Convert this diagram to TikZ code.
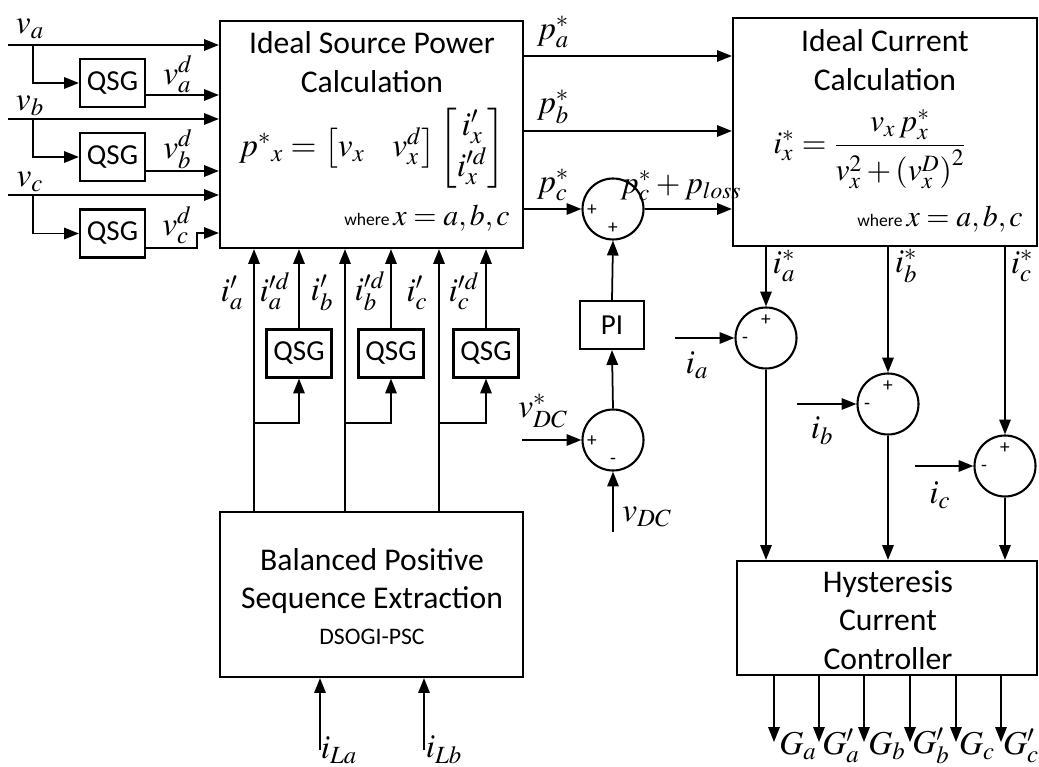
\documentclass[tikz,border=0pt]{standalone}
\usepackage{amsmath}
\usepackage{mathptmx}
\usepackage{fontspec}
\setmainfont{Carlito}
\usetikzlibrary{arrows.meta,fit}
\begin{document}
\begin{tikzpicture}[x=0.02cm,y=-0.02cm,
  box/.style={draw, line width=1.2pt, inner sep=0pt},
  qsg/.style={draw, line width=1.2pt, minimum width=1.3cm, minimum height=0.96cm, inner sep=0pt, font=\fontsize{16.5}{18}\selectfont},
  sumc/.style={draw, circle, line width=1.2pt, minimum size=1.22cm, inner sep=0pt},
  lbl/.style={inner sep=0pt, font=\fontsize{19}{21}\selectfont},
  sgn/.style={inner sep=0pt, font=\fontsize{11}{11}\selectfont},
  ttl/.style={align=center, inner sep=0pt, font=\fontsize{18}{22}\selectfont},
  arr/.style={-{Triangle[length=8.5pt,width=6.5pt]}, line width=1pt},
]
\useasboundingbox (0,0) rectangle (1039,767);

% ---------- main boxes ----------
\node[box, fit={(220,21) (523,248)}] (b1) {};
\node[ttl] (b1t) at (372,62) {Ideal Source Power\\Calculation};
\node[inner sep=0pt, font=\fontsize{19}{23}\selectfont] (b1f) at (372,148) {$p^{*}{}_{x}=\begin{bmatrix} v_x & \hspace{0.3em} v^{d}_x\end{bmatrix}\begin{bmatrix} i'_x\\ i'^{d}_x\end{bmatrix}$};
\node[inner sep=0pt] (b1w) at (427,218) {{\fontsize{10}{11}\selectfont where}\ {\fontsize{17}{18}\selectfont $x=a,b,c$}};

\node[box, fit={(733,18) (1037,246)}] (b3) {};
\node[ttl] (b3t) at (885,60) {Ideal Current\\Calculation};
\node[inner sep=0pt, font=\fontsize{18}{20}\selectfont] (b3f) at (870,149) {$i^{*}_{x}=\dfrac{v_x\,p^{*}_{x}}{v_x^{2}+\left(v_x^{D}\right)^{2}}$};
\node[inner sep=0pt] (b3w) at (940,219) {{\fontsize{10}{11}\selectfont where}\ {\fontsize{17}{18}\selectfont $x=a,b,c$}};

\node[box, fit={(220,512) (523,677)}] (b2) {};
\node[ttl] (b2t) at (372,581) {Balanced Positive\\Sequence Extraction};
\node[inner sep=0pt, font=\fontsize{13.5}{15}\selectfont] (b2s) at (372,637) {DSOGI-PSC};

\node[box, fit={(737,561) (1037,675)}] (b4) {};
\node[ttl] (b4t) at (888,620) {Hysteresis\\Current\\Controller};

% ---------- QSG blocks ----------
\node[qsg] (q1) at (112.5,83) {QSG};
\node[qsg] (q2) at (112.5,157) {QSG};
\node[qsg] (q3) at (112.5,233.5) {QSG};
\node[qsg] (q4) at (299,353.5) {QSG};
\node[qsg] (q5) at (391,353.5) {QSG};
\node[qsg] (q6) at (486,353.5) {QSG};

% ---------- summing junctions and PI ----------
\node[sumc] (s1) at (613,209) {};
\node[sumc] (s2) at (613,440) {};
\node[draw, line width=1.2pt, minimum width=1.28cm, minimum height=0.96cm, inner sep=0pt, font=\fontsize{16.5}{18}\selectfont] (pi) at (612,325) {PI};
\node[sumc] (sa) at (766,338) {};
\node[sumc] (sb) at (888,404) {};
\node[sumc] (sc) at (1005,466) {};

\node[sgn] (s1p1) at (592,210) {+};
\node[sgn] (s1p2) at (613,228) {+};
\node[sgn] (s2p1) at (592,441) {+};
\node[sgn] (s2m) at (613,461) {-};
\node[sgn] (sap) at (766,320) {+};
\node[sgn] (sam) at (745,340) {-};
\node[sgn] (sbp) at (888,386) {+};
\node[sgn] (sbm) at (867,406) {-};
\node[sgn] (scp) at (1005,448) {+};
\node[sgn] (scm) at (984,468) {-};

% ---------- left inputs ----------
\coordinate (va0) at (8,45);  \coordinate (vaj) at (33,45);
\coordinate (vb0) at (8,119); \coordinate (vbj) at (33,119);
\coordinate (vc0) at (8,195); \coordinate (vcj) at (33,195);
\draw[arr] (va0) -- (va0 -| b1.west);
\draw[arr] (vb0) -- (vb0 -| b1.west);
\draw[arr] (vc0) -- (vc0 -| b1.west);
\draw[arr] (vaj) |- (q1.west);
\draw[arr] (vbj) |- (q2.west);
\draw[arr] (vcj) |- (q3.west);
\draw[arr] (q1.east |- 0,95) -- (b1.west |- 0,95);
\draw[arr] (q2.east |- 0,171) -- (b1.west |- 0,171);
\draw[arr] (q3.east |- 0,248) -- (197,248) -- (197,233) -- (b1.west |- 0,233);

\node[lbl] (lva) at (30,29) {$v_a$};
\node[lbl] (lvb) at (30,106) {$v_b$};
\node[lbl] (lvc) at (30,182) {$v_c$};
\node[lbl] (lvad) at (178,74) {$v_a^{d}$};
\node[lbl] (lvbd) at (178,149) {$v_b^{d}$};
\node[lbl] (lvcd) at (177,225) {$v_c^{d}$};

% ---------- currents from positive sequence block ----------
\draw[arr] (b2.north -| 254,0) -- (b1.south -| 254,0);
\draw[arr] (b2.north -| 345,0) -- (b1.south -| 345,0);
\draw[arr] (b2.north -| 439,0) -- (b1.south -| 439,0);
\draw[arr] (254,423) -| (q4.south);
\draw[arr] (345,423) -| (q5.south);
\draw[arr] (439,423) -| (q6.south);
\draw[arr] (q4.north) -- (q4.north |- b1.south);
\draw[arr] (q5.north) -- (q5.north |- b1.south);
\draw[arr] (q6.north) -- (q6.north |- b1.south);

\node[lbl] (lia) at (232,293) {$i'_a$};
\node[lbl] (liad) at (275,291) {$i'^{d}_a$};
\node[lbl] (lib) at (322,293) {$i'_b$};
\node[lbl] (libd) at (370,291) {$i'^{d}_b$};
\node[lbl] (lic) at (417,293) {$i'_c$};
\node[lbl] (licd) at (464,291) {$i'^{d}_c$};

\coordinate (ila) at (320,750);
\coordinate (ilb) at (424,750);
\draw[arr] (ila) -- (ila |- b2.south);
\draw[arr] (ilb) -- (ilb |- b2.south);
\node[lbl] (lila) at (339,750) {$i_{La}$};
\node[lbl] (lilb) at (444,750) {$i_{Lb}$};

% ---------- power references ----------
\draw[arr] (b1.east |- 0,56) -- (b3.west |- 0,56);
\draw[arr] (b1.east |- 0,131) -- (b3.west |- 0,131);
\draw[arr] (b1.east |- s1) -- (s1.west);
\draw[arr] (s1.east) -- (s1.east -| b3.west);
\node[lbl] (lpa) at (553,32) {$p^{*}_{a}$};
\node[lbl] (lpb) at (553,107) {$p^{*}_{b}$};
\node[lbl] (lpc) at (553,185) {$p^{*}_{c}$};
\node[inner sep=0pt, font=\fontsize{18}{20}\selectfont] (lpl) at (681,186) {$p^{*}_{c}+p_{loss}$};

% ---------- DC loop ----------
\draw[arr] (pi.north) -- (s1.south);
\draw[arr] (s2.north) -- (pi.south);
\coordinate (vdr) at (522,440);
\coordinate (vdc) at (613,532);
\draw[arr] (vdr) -- (s2.west);
\draw[arr] (vdc) -- (s2.south);
\node[lbl] (lvdr) at (543,411) {$v^{*}_{DC}$};
\node[lbl] (lvdc) at (647,517) {$v_{DC}$};

% ---------- current error ----------
\draw[arr] (b3.south -| sa) -- (sa.north);
\draw[arr] (b3.south -| sb) -- (sb.north);
\draw[arr] (b3.south -| sc) -- (sc.north);
\coordinate (ia0) at (675,338);
\coordinate (ib0) at (797,404);
\coordinate (ic0) at (915,466);
\draw[arr] (ia0) -- (sa.west);
\draw[arr] (ib0) -- (sb.west);
\draw[arr] (ic0) -- (sc.west);
\draw[arr] (sa.south) -- (sa.south |- b4.north);
\draw[arr] (sb.south) -- (sb.south |- b4.north);
\draw[arr] (sc.south) -- (sc.south |- b4.north);
\node[lbl] (lisa) at (784,266) {$i^{*}_{a}$};
\node[lbl] (lisb) at (906,266) {$i^{*}_{b}$};
\node[lbl] (lisc) at (1022,266) {$i^{*}_{c}$};
\node[lbl] (lia2) at (697,365) {$i_a$};
\node[lbl] (lib2) at (822,431) {$i_b$};
\node[lbl] (lic2) at (940,495) {$i_c$};

% ---------- gate signals ----------
\coordinate (g1) at (774,742);
\coordinate (g2) at (819,742);
\coordinate (g3) at (864,742);
\coordinate (g4) at (910,742);
\coordinate (g5) at (956,742);
\coordinate (g6) at (1001,742);
\foreach \g in {g1,g2,g3,g4,g5,g6}{\draw[arr] (b4.south -| \g) -- (\g);}
\node[lbl] (lg1) at (798,746) {$G_a$};
\node[lbl] (lg2) at (841,746) {$G'_a$};
\node[lbl] (lg3) at (887,746) {$G_b$};
\node[lbl] (lg4) at (931,746) {$G'_b$};
\node[lbl] (lg5) at (977,746) {$G_c$};
\node[lbl] (lg6) at (1021,746) {$G'_c$};
\end{tikzpicture}
\end{document}
